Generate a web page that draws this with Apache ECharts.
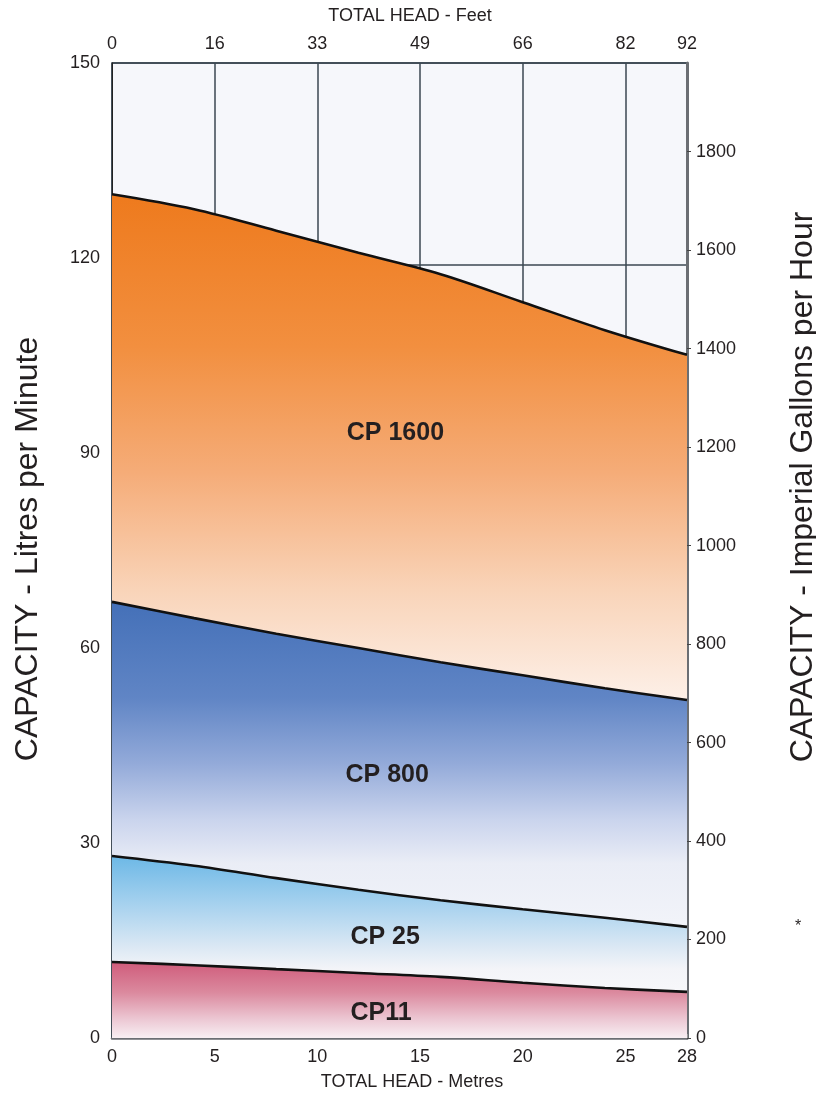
<!DOCTYPE html>
<html><head><meta charset="utf-8">
<script src="https://cdn.jsdelivr.net/npm/echarts@6/dist/echarts.min.js"></script>
<style>html,body{margin:0;padding:0;background:#fff}#c{width:816px;height:1093px}</style>
</head><body><div id="c"></div>
<script>
// ---- data ----
const headMetres = [0, 4, 8, 12, 16, 20, 24, 28];
const cp1600 = [129.8, 127.5, 124.2, 120.8, 117.5, 113.2, 108.9, 105.1];
const cp800  = [67.1, 64.6, 62.2, 60.0, 57.8, 55.8, 53.8, 52.0];
const cp25   = [28.0, 26.5, 24.6, 22.8, 21.2, 19.8, 18.5, 17.1];
const cp11   = [11.7, 11.2, 10.6, 10.0, 9.4, 8.5, 7.7, 7.1];
const seriesNames = ['CP 1600', 'CP 800', 'CP 25', 'CP11'];
const metreTicks = ['0', '5', '10', '15', '20', '25', '28'];
const feetTicks  = ['0', '16', '33', '49', '66', '82', '92'];
const lpmTicks   = ['0', '30', '60', '90', '120', '150'];
const gphTicks   = ['0', '200', '400', '600', '800', '1000', '1200', '1400', '1600', '1800'];
const gridLineLpm = 119;

const FONT = '"Liberation Sans", Arial, Helvetica, sans-serif';
const G = echarts.graphic.LinearGradient;
const pts = arr => headMetres.map((m, i) => [m, arr[i]]);

function curve(name, data, stops, labelCoord) {
  return {
    name: name, type: 'line', data: pts(data), smooth: 0.35, symbol: 'none',
    xAxisIndex: 0, yAxisIndex: 0,
    lineStyle: { color: '#111', width: 2.6 },
    areaStyle: { origin: 'start', opacity: 1, color: new G(0, 0, 0, 1, stops) },
    markPoint: {
      symbol: 'circle', symbolSize: 0, silent: true,
      label: { show: true, position: 'inside', formatter: name, fontFamily: FONT,
               fontSize: 25, fontWeight: 'bold', color: '#231f20' },
      data: [{ coord: labelCoord }]
    }
  };
}

const chart = echarts.init(document.getElementById('c'), null, { renderer: 'canvas' });
chart.setOption({
  animation: false,
  backgroundColor: '#ffffff',
  textStyle: { fontFamily: FONT },
  grid: { left: 112, right: 129, top: 63, bottom: 55, show: true,
          backgroundColor: '#f6f7fb', borderColor: '#2f3a44', borderWidth: 1.5 },
  xAxis: [
    { type: 'value', position: 'bottom', min: 0, max: 28, interval: 5,
      axisLine: { show: true, onZero: false, lineStyle: { color: '#6b6e73', width: 2.5 } },
      axisTick: { show: true, inside: true, length: 4, lineStyle: { color: '#999' } },
      axisLabel: { margin: 10, fontSize: 18, color: '#231f20', fontFamily: FONT,
                   formatter: (v, i) => metreTicks[i] },
      splitLine: { show: true, lineStyle: { color: '#3b4752', width: 1.5 } } },
    { type: 'value', position: 'top', min: 0, max: 28, interval: 5,
      axisLine: { show: false, onZero: false }, axisTick: { show: false },
      axisLabel: { margin: 10, fontSize: 18, color: '#231f20', fontFamily: FONT,
                   formatter: (v, i) => feetTicks[i] },
      splitLine: { show: false } }
  ],
  yAxis: [
    { type: 'value', position: 'left', min: 0, max: 150, interval: 30,
      axisLine: { show: true, onZero: false, lineStyle: { color: '#222', width: 1 } },
      axisTick: { show: false },
      axisLabel: { margin: 12, fontSize: 18, color: '#231f20', fontFamily: FONT,
                   formatter: (v, i) => lpmTicks[i] },
      splitLine: { show: false } },
    { type: 'value', position: 'right', min: 0, max: 1980, interval: 200,
      axisLine: { show: true, onZero: false, lineStyle: { color: '#6b6e73', width: 3 } },
      axisTick: { show: true, length: 4, lineStyle: { color: '#444' } },
      axisLabel: { margin: 9, fontSize: 18, color: '#231f20', fontFamily: FONT,
                   showMaxLabel: false, formatter: (v, i) => (gphTicks[i] || '') },
      splitLine: { show: false } },
    { type: 'value', position: 'left', min: 0, max: 150, interval: gridLineLpm,
      axisLine: { show: false, onZero: false }, axisTick: { show: false }, axisLabel: { show: false },
      splitLine: { show: true, lineStyle: { color: '#3b4752', width: 1.5 } } }
  ],
  series: [
    curve(seriesNames[0], cp1600, [
      { offset: 0, color: '#ee7a1d' }, { offset: 0.18, color: '#f28f3f' },
      { offset: 0.33, color: '#f5ac78' }, { offset: 0.47, color: '#f9d4b9' },
      { offset: 0.6, color: '#fdf0e8' }, { offset: 1, color: '#ffffff' }], [13.8, 93.0]),
    curve(seriesNames[1], cp800, [
      { offset: 0, color: '#4470b8' }, { offset: 0.22, color: '#6085c5' },
      { offset: 0.37, color: '#93aad9' }, { offset: 0.5, color: '#cad4ed' },
      { offset: 0.6, color: '#eaedf6' }, { offset: 1, color: '#ffffff' }], [13.4, 40.5]),
    curve(seriesNames[2], cp25, [
      { offset: 0, color: '#6cb8e6' }, { offset: 0.25, color: '#a3d0ee' },
      { offset: 0.5, color: '#dbe8f4' }, { offset: 0.62, color: '#f3f4f8' },
      { offset: 1, color: '#ffffff' }], [13.3, 15.5]),
    curve(seriesNames[3], cp11, [
      { offset: 0, color: '#cf5c7b' }, { offset: 0.4, color: '#db899e' },
      { offset: 0.75, color: '#ecc7d3' }, { offset: 1, color: '#f8eff3' }], [13.1, 3.8])
  ],
  graphic: [
    { type: 'text', x: 410, y: 16, style: { text: 'TOTAL HEAD - Feet', fontFamily: FONT,
      fontSize: 18, fill: '#231f20', align: 'center', verticalAlign: 'middle' } },
    { type: 'text', x: 412, y: 1082, style: { text: 'TOTAL HEAD - Metres', fontFamily: FONT,
      fontSize: 18, fill: '#231f20', align: 'center', verticalAlign: 'middle' } },
    { type: 'text', x: 28, y: 549, rotation: Math.PI / 2, style: { text: 'CAPACITY - Litres per Minute',
      fontFamily: FONT, fontSize: 32, fill: '#231f20', align: 'center', verticalAlign: 'middle' } },
    { type: 'text', x: 803, y: 487, rotation: Math.PI / 2, style: { text: 'CAPACITY - Imperial Gallons per Hour',
      fontFamily: FONT, fontSize: 32, fill: '#231f20', align: 'center', verticalAlign: 'middle' } },
    { type: 'text', x: 798, y: 927, style: { text: '*', fontFamily: FONT,
      fontSize: 16, fill: '#231f20', align: 'center', verticalAlign: 'middle' } }
  ]
});
</script></body></html>
